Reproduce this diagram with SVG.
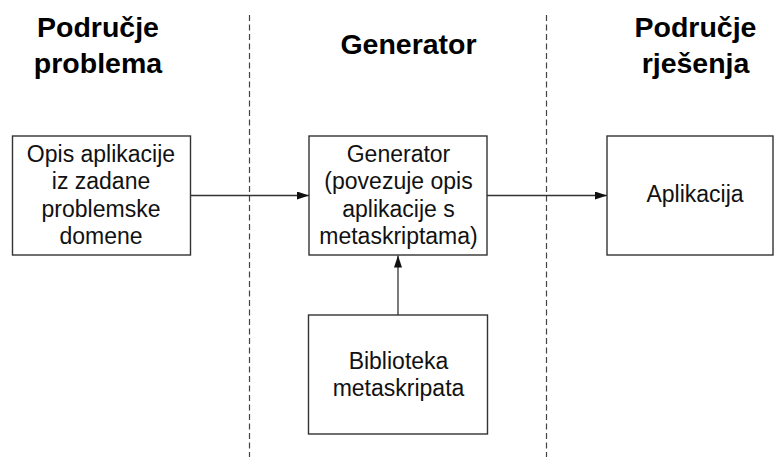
<svg xmlns="http://www.w3.org/2000/svg" width="774" height="457" viewBox="0 0 774 457">
<style>
  .box { fill: #fff; stroke: #333; stroke-width: 1.4; }
  .lbl { font-family: "Liberation Sans", Arial, sans-serif; font-size: 23px; fill: #111; text-anchor: middle; }
  .ttl { font-family: "Liberation Sans", Arial, sans-serif; font-size: 28.5px; font-weight: bold; fill: #000; text-anchor: middle; }
  .div { stroke: #444; stroke-width: 1.2; stroke-dasharray: 6 3.5; fill: none; }
  .con { stroke: #333; stroke-width: 1.3; fill: none; marker-end: url(#ah); }
</style>
<defs>
  <marker id="ah" viewBox="0 0 12 8" refX="12" refY="4" markerWidth="12" markerHeight="8" markerUnits="userSpaceOnUse" orient="auto">
    <path d="M0,0 L12,4 L0,8 Z" fill="#111"/>
  </marker>
</defs>
<rect width="774" height="457" fill="#fff"/>
<g id="dividers">
  <line class="div" x1="249.5" y1="15" x2="249.5" y2="457"/>
  <line class="div" x1="546.5" y1="15" x2="546.5" y2="457"/>
</g>
<g id="titles">
  <text class="ttl" x="98" y="37">Područje</text>
  <text class="ttl" x="98" y="73">problema</text>
  <text class="ttl" x="408.5" y="53.5">Generator</text>
  <text class="ttl" x="695.5" y="37">Područje</text>
  <text class="ttl" x="695.5" y="73">rješenja</text>
</g>
<g id="connectors">
  <line class="con" x1="190.5" y1="195.5" x2="309" y2="195.5"/>
  <line class="con" x1="487" y1="195.5" x2="607" y2="195.5"/>
  <line class="con" x1="398" y1="315" x2="398" y2="255.5"/>
</g>
<g id="opis">
  <rect class="box" x="12.5" y="136" width="178" height="119"/>
  <text class="lbl" x="101" y="161.5">Opis aplikacije</text>
  <text class="lbl" x="101" y="189">iz zadane</text>
  <text class="lbl" x="101" y="216.5">problemske</text>
  <text class="lbl" x="101" y="244">domene</text>
</g>
<g id="generator">
  <rect class="box" x="309" y="136" width="178" height="119"/>
  <text class="lbl" x="398.5" y="161.5">Generator</text>
  <text class="lbl" x="398.5" y="189">(povezuje opis</text>
  <text class="lbl" x="398.5" y="216.5">aplikacije s</text>
  <text class="lbl" x="398.5" y="244">metaskriptama)</text>
</g>
<g id="aplikacija">
  <rect class="box" x="607" y="136" width="166" height="119"/>
  <text class="lbl" x="695" y="201.5">Aplikacija</text>
</g>
<g id="biblioteka">
  <rect class="box" x="308.5" y="315" width="179" height="119"/>
  <text class="lbl" x="398.5" y="368.5">Biblioteka</text>
  <text class="lbl" x="398.5" y="396">metaskripata</text>
</g>
</svg>
